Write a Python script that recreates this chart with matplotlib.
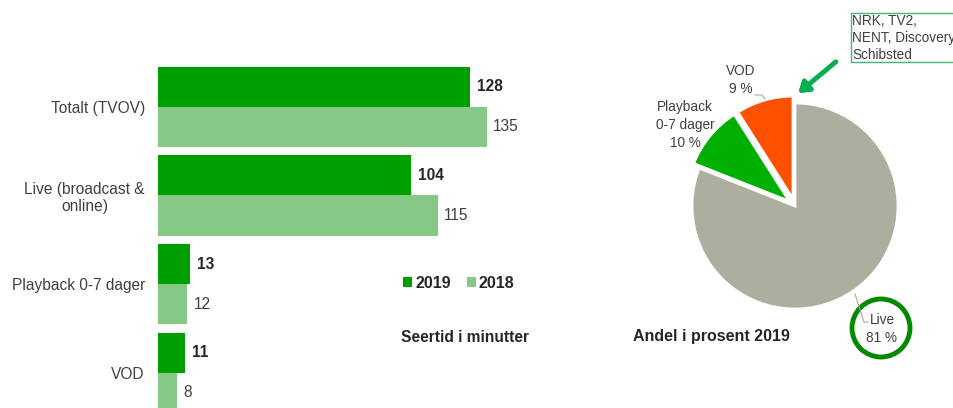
import matplotlib
matplotlib.use("Agg")
import matplotlib.pyplot as plt
from matplotlib.patches import Circle, Rectangle
import numpy as np

plt.rcParams["font.family"] = ["Liberation Sans", "DejaVu Sans"]

# ---------------------------------------------------------------
#  Data
# ---------------------------------------------------------------
categories = ["Totalt (TVOV)", "Live (broadcast &\nonline)",
              "Playback 0-7 dager", "VOD"]
minutes_2019 = [128, 104, 13, 11]
minutes_2018 = [135, 115, 12, 8]

pie_labels = ["Live", "Playback\n0-7 dager", "VOD"]
pie_share = [81, 10, 9]

dark_green = "#009F00"
light_green = "#86C886"
text_col = "#404040"

W, H = 954, 408
def fx(x):
    return x / W
def fy(y):
    return 1 - y / H

fig = plt.figure(figsize=(W / 100, H / 100), dpi=100)

# ---------------------------------------------------------------
#  Bar chart (Seertid i minutter)
# ---------------------------------------------------------------
# 2.435 px per minute, bars start at x=158
ax = fig.add_axes([fx(158), 0, 150 * 2.435 / W, fy(60)])
pos = np.arange(len(categories))
bh = 0.452
b19 = ax.barh(pos - bh / 2, minutes_2019, height=bh, color=dark_green, label="2019")
b18 = ax.barh(pos + bh / 2, minutes_2018, height=bh, color=light_green, label="2018")
ax.set_xlim(0, 150)
ax.set_ylim(3.40, -0.53)
ax.set_yticks(pos)
ax.set_yticklabels(categories, fontsize=11.2, color=text_col)
for lab in ax.get_yticklabels():
    lab.set_multialignment("center")
ax.tick_params(axis="y", length=0, pad=9.5)
ax.set_xticks([])
for s in ax.spines.values():
    s.set_visible(False)

for p, v in zip(pos, minutes_2019):
    ax.annotate(str(v), (v, p - bh / 2), xytext=(5, 0), textcoords="offset points",
                va="center", ha="left", fontsize=11.2, fontweight="bold", color="#262626")
for p, v in zip(pos, minutes_2018):
    ax.annotate(str(v), (v, p + bh / 2), xytext=(4.5, 0), textcoords="offset points",
                va="center", ha="left", fontsize=11.2, color=text_col)

fig.legend(handles=[b19, b18], loc="center left", bbox_to_anchor=(fx(389), fy(283)),
           ncol=2, frameon=False, handlelength=0.55, handleheight=0.55,
           handletextpad=0.2, columnspacing=1.0,
           prop={"weight": "bold", "size": 11.5}, labelcolor="#262626")

fig.text(fx(401), fy(337), "Seertid i minutter", fontsize=11.2, fontweight="bold",
         color="#262626", va="center", ha="left")

# ---------------------------------------------------------------
#  Pie chart (Andel i prosent 2019)
# ---------------------------------------------------------------
r = 103
pax = fig.add_axes([fx(795 - 150), fy(206 + 150), 300 / W, 300 / H])
wedges, _ = pax.pie(pie_share, colors=["#ADAE9E", "#00B000", "#FF5000"],
                    startangle=90, counterclock=False, explode=[0, 0.07, 0.07],
                    wedgeprops={"edgecolor": "white", "linewidth": 2})
pax.set_xlim(-150 / r, 150 / r)
pax.set_ylim(-150 / r, 150 / r)
pax.set_aspect("equal")
pax.axis("off")

def px(x):
    return (x - 795) / r
def py(y):
    return (206 - y) / r

pax.text(px(741), py(80), "VOD\n9 %", ha="center", va="center",
         fontsize=9.8, color=text_col, linespacing=1.35)
pax.plot([px(755), px(762), px(765)], [py(95), py(95), py(99)], color="#AAAAAA", lw=0.8)
pax.text(px(685), py(125), "Playback\n0-7 dager\n10 %", ha="center", va="center",
         fontsize=9.8, color=text_col, linespacing=1.35)
pax.text(px(882), py(329), "Live\n81 %", ha="center", va="center",
         fontsize=9.8, color=text_col, linespacing=1.3)
pax.plot([px(855), px(864), px(868)], [py(294), py(322), py(322)],
         color="#AAAAAA", lw=0.8, clip_on=False)
pax.add_patch(Circle((px(881), py(328)), 29 / r, fill=False, edgecolor="#008A00",
                     lw=3.5, clip_on=False))

# callout
pax.annotate("", xy=(px(796), py(95)), xytext=(px(838), py(60)),
             arrowprops=dict(arrowstyle="-|>,head_length=0.6,head_width=0.4",
                             color="#00B050", lw=3.5), annotation_clip=False)
fig.add_artist(Rectangle((fx(851), fy(62)), fx(960) - fx(851), fy(13) - fy(62),
                         transform=fig.transFigure, facecolor="white",
                         edgecolor="#3CB878", lw=1))
fig.text(fx(852), fy(38), "NRK, TV2,\nNENT, Discovery\nSchibsted", fontsize=9.8,
         color=text_col, va="center", ha="left", linespacing=1.3)

fig.text(fx(633), fy(337), "Andel i prosent 2019", fontsize=11.5, fontweight="bold",
         color="#262626", va="center", ha="left")

fig.savefig("out.png", dpi=100)
